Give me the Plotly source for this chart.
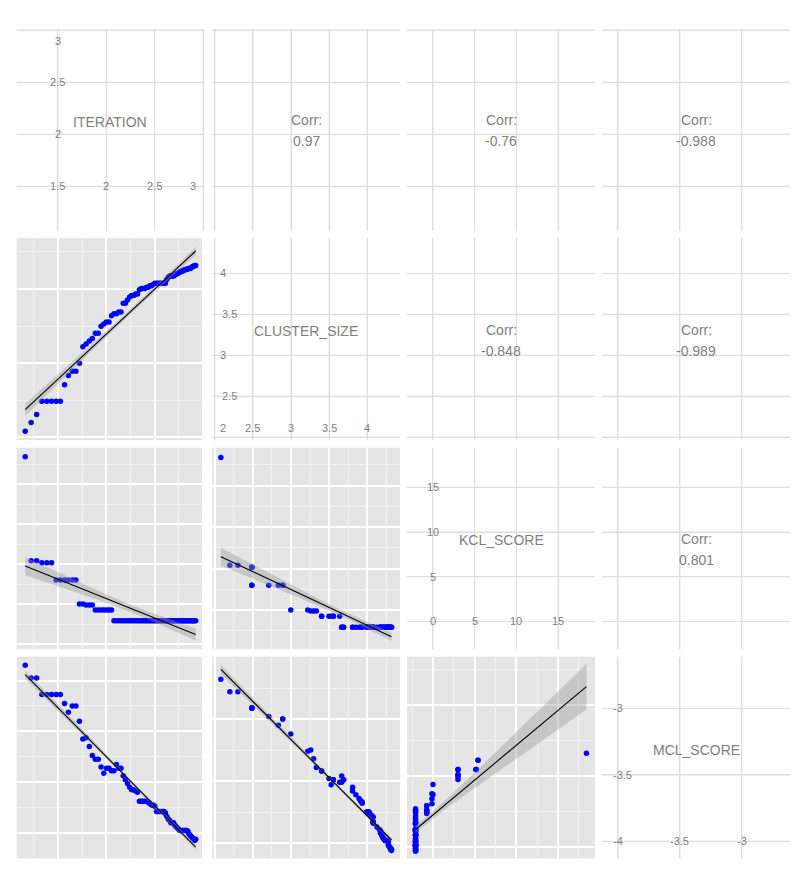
import numpy as np
import plotly.graph_objects as go

# ---------------- data ----------------
VAR_NAMES = ["ITERATION", "CLUSTER_SIZE", "KCL_SCORE", "MCL_SCORE"]

ITERATION = [1.163, 1.224, 1.281, 1.335, 1.386, 1.435, 1.482, 1.526, 1.569, 1.609,
             1.649, 1.686, 1.723, 1.758, 1.792, 1.825, 1.856, 1.887, 1.917, 1.946,
             1.974, 2.001, 2.028, 2.054, 2.079, 2.104, 2.128, 2.152, 2.175, 2.197,
             2.219, 2.241, 2.262, 2.282, 2.303, 2.322, 2.342, 2.361, 2.380, 2.398,
             2.416, 2.434, 2.451, 2.468, 2.485, 2.501, 2.518, 2.534, 2.549, 2.565,
             2.580, 2.595, 2.610, 2.625, 2.639, 2.653, 2.667, 2.681, 2.695, 2.708,
             2.721, 2.734, 2.747, 2.760, 2.773, 2.785, 2.797, 2.809, 2.821, 2.833,
             2.845, 2.856, 2.868, 2.879, 2.890, 2.901, 2.912, 2.923]

CLUSTER_SIZE = [2.079, 2.197, 2.303, 2.485, 2.485, 2.485, 2.485, 2.485, 2.708, 2.833,
                2.890, 2.890, 2.996, 3.219, 3.258, 3.296, 3.332, 3.401, 3.401, 3.497,
                3.526, 3.555, 3.555, 3.638, 3.664, 3.664, 3.689, 3.689, 3.807, 3.807,
                3.850, 3.892, 3.912, 3.912, 3.932, 3.932, 3.989, 4.007, 4.007, 4.007,
                4.025, 4.025, 4.043, 4.043, 4.060, 4.078, 4.078, 4.078, 4.078, 4.078,
                4.078, 4.078, 4.078, 4.127, 4.159, 4.174, 4.174, 4.174, 4.174, 4.190,
                4.205, 4.205, 4.220, 4.234, 4.234, 4.248, 4.248, 4.263, 4.263, 4.263,
                4.277, 4.277, 4.277, 4.290, 4.304, 4.304, 4.317, 4.317]

KCL_SCORE = [18.4, 5.40, 5.40, 5.17, 5.17, 5.17, 3.00, 3.00, 3.00, 3.00,
             3.00, 3.00, 0.00, 0.00, -0.12, -0.12, -0.12, -0.75, -0.75, -0.75,
             -0.75, -0.75, -0.75, -0.75, -2.09, -2.09, -2.09, -2.09, -2.09, -2.09,
             -2.09, -2.09, -2.09, -2.09, -2.09, -2.09, -2.09, -2.09, -2.09, -2.09,
             -2.09, -2.09, -2.09, -2.09, -2.09, -2.09, -2.09, -2.09, -2.09, -2.09,
             -2.09, -2.09, -2.09, -2.09, -2.09, -2.09, -2.09, -2.09, -2.09, -2.09,
             -2.09, -2.09, -2.09, -2.09, -2.09, -2.09, -2.09, -2.09, -2.09, -2.09,
             -2.09, -2.09, -2.09, -2.09, -2.09, -2.09, -2.09, -2.09]

MCL_SCORE = [-2.68, -2.78, -2.78, -2.91, -2.91, -2.91, -2.91, -2.91, -2.98, -3.05,
             -3.00, -3.00, -3.12, -3.26, -3.25, -3.32, -3.39, -3.42, -3.42, -3.48,
             -3.53, -3.49, -3.49, -3.51, -3.51, -3.46, -3.49, -3.49, -3.55, -3.58,
             -3.61, -3.64, -3.66, -3.66, -3.67, -3.68, -3.75, -3.75, -3.75, -3.75,
             -3.75, -3.76, -3.77, -3.78, -3.78, -3.79, -3.83, -3.83, -3.83, -3.83,
             -3.83, -3.83, -3.84, -3.87, -3.89, -3.90, -3.92, -3.92, -3.92, -3.94,
             -3.95, -3.96, -3.97, -3.98, -3.98, -3.98, -3.98, -3.98, -3.98, -3.98,
             -3.99, -4.01, -4.02, -4.03, -4.04, -4.05, -4.06, -4.05]

# correlation labels shown in the upper panels (row, col) -> text
CORR_LABELS = {(0, 1): "0.97", (0, 2): "-0.76", (0, 3): "-0.988",
               (1, 2): "-0.848", (1, 3): "-0.989", (2, 3): "0.801"}

# axis breaks / tick labels per variable
VAR_BREAKS = [[1.5, 2, 2.5, 3], [2, 2.5, 3, 3.5, 4], [0, 5, 10, 15], [-4, -3.5, -3]]
VAR_BREAK_LABELS = [["1.5", "2", "2.5", "3"], ["2", "2.5", "3", "3.5", "4"],
                    ["0", "5", "10", "15"], ["-4", "-3.5", "-3"]]

# ---------------- layout constants ----------------
W, H = 800, 876
COLS = [(16.7, 204.2), (212.3, 400.0), (407.0, 595.0), (602.0, 790.0)]
ROWS = [(29.0, 230.5), (238.3, 440.0), (447.7, 649.3), (656.8, 858.4)]

LOWER_YRANGE = {(1, 0): [1.96, 4.685], (2, 0): [-5.66, 19.54], (2, 1): [-4.74, 19.58],
                (3, 0): [-4.20, -2.613], (3, 1): [-4.124, -2.498], (3, 2): [-4.161, -1.321]}
LOWER_X_GRID = [([1.5, 2, 2.5, 3], [1.25, 1.75, 2.25, 2.75]),
                ([2, 2.5, 3, 3.5, 4], [2.25, 2.75, 3.25, 3.75, 4.25]),
                ([0, 5, 10, 15], [-2.5, 2.5, 7.5, 12.5, 17.5])]
LOWER_Y_GRID = {(1, 0): ([2, 3, 4], [2.5, 3.5, 4.5]),
                (2, 0): ([-5, 0, 5, 10, 15], [-2.5, 2.5, 7.5, 12.5, 17.5]),
                (2, 1): ([-5, 0, 5, 10, 15], [-2.5, 2.5, 7.5, 12.5, 17.5]),
                (3, 0): ([-4.0, -3.6, -3.2, -2.8], [-3.8, -3.4, -3.0]),
                (3, 1): ([-4, -3.5, -3, -2.5], [-3.75, -3.25, -2.75]),
                (3, 2): ([-4, -3, -2], [-3.5, -2.5, -1.5])}

FONT = "Liberation Sans, Arial, Helvetica, sans-serif"
TXT_COL = "#7f7f7f"
PANEL_BG = "#E5E5E5"
UPPER_GRID = "#DEDEDE"

DATA = [np.array(v, dtype=float) for v in (ITERATION, CLUSTER_SIZE, KCL_SCORE, MCL_SCORE)]


def expand(lo, hi, f=0.05):
    d = hi - lo
    return [float(lo - f * d), float(hi + f * d)]


VAR_RANGE = [expand(d.min(), d.max()) for d in DATA]


def lm_band(x, y, n=80):
    xbar = x.mean()
    sxx = ((x - xbar) ** 2).sum()
    b = ((x - xbar) * (y - y.mean())).sum() / sxx
    a = y.mean() - b * xbar
    resid = y - (a + b * x)
    df = len(x) - 2
    s = np.sqrt((resid ** 2).sum() / df)
    z = 1.959964
    t = z + (z ** 3 + z) / (4 * df) + (5 * z ** 5 + 16 * z ** 3 + 3 * z) / (96 * df ** 2)
    xs = np.linspace(x.min(), x.max(), n)
    yh = a + b * xs
    se = s * np.sqrt(1.0 / len(x) + (xs - xbar) ** 2 / sxx)
    return xs, yh, yh - t * se, yh + t * se


def pxx(x):
    return x / W


def pxy(y):
    return 1 - y / H


fig = go.Figure()
shapes = []
annotations = []

for r in range(4):
    for c in range(4):
        i = r * 4 + c + 1
        xa = "xaxis" if i == 1 else f"xaxis{i}"
        ya = "yaxis" if i == 1 else f"yaxis{i}"
        xr = "x" if i == 1 else f"x{i}"
        yr = "y" if i == 1 else f"y{i}"
        x0, x1 = COLS[c]
        y0, y1 = ROWS[r]
        common = dict(showticklabels=False, ticks="", zeroline=False, showline=False,
                      fixedrange=True)
        lower = r > c
        if lower:
            xmaj, xmin = LOWER_X_GRID[c]
            ymaj, ymin = LOWER_Y_GRID[(r, c)]
            yrange = LOWER_YRANGE[(r, c)]
            gx = dict(tickvals=xmaj, showgrid=True, gridcolor="white", gridwidth=1.5,
                      minor=dict(tickvals=xmin, showgrid=True, gridcolor="#F2F2F2",
                                 gridwidth=0.8, ticks=""))
            gy = dict(tickvals=ymaj, showgrid=True, gridcolor="white", gridwidth=1.5,
                      minor=dict(tickvals=ymin, showgrid=True, gridcolor="#F2F2F2",
                                 gridwidth=0.8, ticks=""))
            shapes.append(dict(type="rect", xref=f"{xr} domain", yref=f"{yr} domain",
                               x0=0, x1=1, y0=0, y1=1, fillcolor=PANEL_BG,
                               line=dict(width=0), layer="below"))
        else:
            yrange = VAR_RANGE[r]
            gx = dict(tickvals=VAR_BREAKS[c], showgrid=True, gridcolor=UPPER_GRID, gridwidth=1.1)
            gy = dict(tickvals=VAR_BREAKS[r], showgrid=True, gridcolor=UPPER_GRID, gridwidth=1.1)
            # light grid of the blank panels (drawn as lines in the panel's own scale)
            for b in VAR_BREAKS[c]:
                shapes.append(dict(type="line", xref=xr, yref=f"{yr} domain",
                                   x0=b, x1=b, y0=0, y1=1, layer="below",
                                   line=dict(color=UPPER_GRID, width=1.1)))
            for b in VAR_BREAKS[r]:
                shapes.append(dict(type="line", xref=f"{xr} domain", yref=yr,
                                   x0=0, x1=1, y0=b, y1=b, layer="below",
                                   line=dict(color=UPPER_GRID, width=1.1)))
        fig.layout[xa] = dict(domain=[pxx(x0), pxx(x1)], range=VAR_RANGE[c], anchor=yr,
                              **common, **gx)
        fig.layout[ya] = dict(domain=[pxy(y1), pxy(y0)], range=yrange, anchor=xr,
                              **common, **gy)

        if lower:
            xd, yd = DATA[c], DATA[r]
            fig.add_trace(go.Scatter(x=xd, y=yd, mode="markers", xaxis=xr, yaxis=yr,
                                     marker=dict(color="#0000FF", size=5.5, line=dict(width=0)),
                                     hoverinfo="skip"))
            xs, yh, lo, hi = lm_band(xd, yd)
            fig.add_trace(go.Scatter(x=np.concatenate([xs, xs[::-1]]),
                                     y=np.concatenate([hi, lo[::-1]]),
                                     mode="lines", fill="toself",
                                     fillcolor="rgba(153,153,153,0.4)",
                                     line=dict(width=0), xaxis=xr, yaxis=yr,
                                     hoverinfo="skip"))
            fig.add_trace(go.Scatter(x=xs, y=yh, mode="lines", xaxis=xr, yaxis=yr,
                                     line=dict(color="black", width=1.1),
                                     hoverinfo="skip"))
        else:
            # invisible placeholder so the blank subplot is registered
            fig.add_trace(go.Scatter(x=[float(np.mean(VAR_RANGE[c]))],
                                     y=[float(np.mean(yrange))], mode="markers",
                                     marker=dict(size=1, opacity=0), xaxis=xr, yaxis=yr,
                                     hoverinfo="skip"))
            if r == c:
                cx = (x0 + x1) / 2
                cy = y0 + 0.46 * (y1 - y0)
                annotations.append(dict(x=pxx(cx), y=pxy(cy), xref="paper", yref="paper",
                                        text=VAR_NAMES[r], showarrow=False,
                                        font=dict(family=FONT, size=14, color=TXT_COL),
                                        xanchor="center", yanchor="middle"))
                rx = VAR_RANGE[c]
                ry = VAR_RANGE[r]

                def to_px_x(v):
                    return x0 + (v - rx[0]) / (rx[1] - rx[0]) * (x1 - x0)

                def to_px_y(v):
                    return y1 - (v - ry[0]) / (ry[1] - ry[0]) * (y1 - y0)

                brks = VAR_BREAKS[r]
                labs = VAR_BREAK_LABELS[r]
                pad = 8

                def half_w(s):
                    return 3.05 * len(s)

                def clamp(v, half, lo_, hi_):
                    return min(max(v, lo_ + pad + half), hi_ - pad - half)

                base_y = clamp(to_px_y(brks[0]), 4, y0, y1)
                for b, s in zip(brks, labs):
                    px_ = clamp(to_px_x(b), half_w(s), x0, x1)
                    annotations.append(dict(x=pxx(px_), y=pxy(base_y), xref="paper",
                                            yref="paper", text=s, showarrow=False,
                                            font=dict(family=FONT, size=11, color=TXT_COL),
                                            xanchor="center", yanchor="middle"))
                for b, s in list(zip(brks, labs))[1:]:
                    px_ = clamp(to_px_x(brks[0]), half_w(s), x0, x1)
                    py_ = clamp(to_px_y(b), 4, y0, y1)
                    annotations.append(dict(x=pxx(px_), y=pxy(py_), xref="paper",
                                            yref="paper", text=s, showarrow=False,
                                            font=dict(family=FONT, size=11, color=TXT_COL),
                                            xanchor="center", yanchor="middle"))
            else:
                cx = (x0 + x1) / 2
                cy = (y0 + y1) / 2
                annotations.append(dict(x=pxx(cx), y=pxy(cy - 9.5), xref="paper",
                                        yref="paper", text="Corr:", showarrow=False,
                                        font=dict(family=FONT, size=14, color=TXT_COL),
                                        xanchor="center", yanchor="middle"))
                annotations.append(dict(x=pxx(cx), y=pxy(cy + 11.5), xref="paper",
                                        yref="paper", text=CORR_LABELS[(r, c)],
                                        showarrow=False,
                                        font=dict(family=FONT, size=14, color=TXT_COL),
                                        xanchor="center", yanchor="middle"))

fig.update_layout(width=W, height=H, margin=dict(l=0, r=0, t=0, b=0),
                  paper_bgcolor="white", plot_bgcolor="rgba(0,0,0,0)", showlegend=False,
                  shapes=shapes, annotations=annotations,
                  font=dict(family=FONT))

fig.write_html("out.html")
